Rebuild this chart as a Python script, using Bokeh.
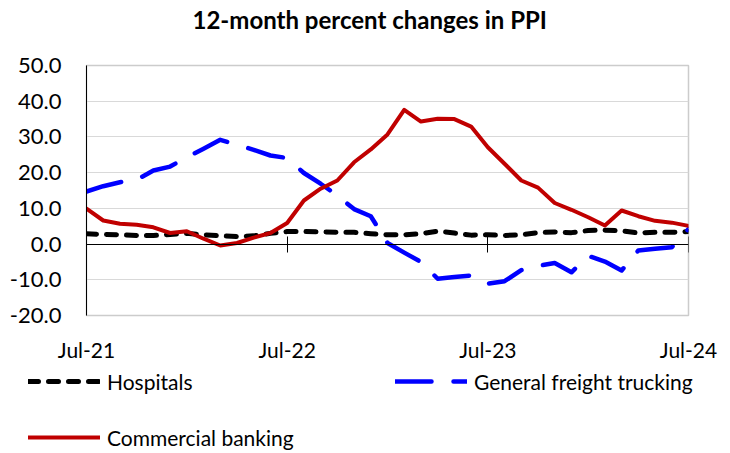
from bokeh.plotting import figure
from bokeh.layouts import column, row
from bokeh.models import (Range1d, FixedTicker, PrintfTickFormatter, LinearAxis,
                          Legend, LegendItem, Title)
from bokeh.embed import file_html
from bokeh.resources import INLINE

# ---- data -------------------------------------------------------------
month_names = ["Jan", "Feb", "Mar", "Apr", "May", "Jun",
               "Jul", "Aug", "Sep", "Oct", "Nov", "Dec"]
months = []
for k in range(37):
    m = (6 + k) % 12
    yy = 21 + (6 + k) // 12
    months.append(f"{month_names[m]}-{yy}")

hospitals = [2.9, 2.7, 2.6, 2.4, 2.4, 2.7, 3.0, 2.6, 2.3, 2.1, 2.3, 3.0,
             3.5, 3.5, 3.4, 3.3, 3.3, 2.9, 2.6, 2.6, 2.9, 3.6, 3.1, 2.5,
             2.6, 2.4, 2.6, 3.2, 3.4, 3.2, 3.8, 3.9, 3.7, 3.1, 3.3, 3.3, 3.5]

freight_trucking = [14.7, 16.2, 17.3, 18.0, 20.6, 21.7, 24.3, 26.7, 29.2, 27.8, 26.4, 24.8,
                    24.1, 19.9, 16.9, 13.6, 9.8, 7.8, 0.3, -2.4, -5.0, -9.7, -9.2, -8.8,
                    -11.1, -10.4, -7.3, -6.1, -5.3, -7.9, -3.3, -4.9, -7.4, -1.8, -1.3, -0.9, 4.2]

commercial_banking = [9.9, 6.6, 5.7, 5.4, 4.7, 3.1, 3.6, 1.5, -0.4, 0.3, 1.8, 3.1,
                      5.9, 12.2, 15.5, 17.8, 22.9, 26.5, 30.7, 37.6, 34.3, 35.1, 35.0, 32.9,
                      27.1, 22.5, 17.8, 15.8, 11.5, 9.6, 7.5, 5.2, 9.4, 7.8, 6.5, 6.0, 5.1]

series_names = ["Hospitals", "General freight trucking", "Commercial banking"]

x_idx = list(range(len(months)))
x_ticks = [0, 12, 24, 36]
y_ticks = [-20, -10, 0, 10, 20, 30, 40, 50]
title_text = "12-month percent changes in PPI"

FONT = "Lato"
STYLES = [
    dict(line_color="black", line_width=5, line_dash="10 10", line_cap="round", line_join="round"),
    dict(line_color="#0000ff", line_width=4.5, line_dash="36 22", line_cap="round", line_join="round"),
    dict(line_color="#c00000", line_width=4, line_cap="round", line_join="round"),
]

# ---- main figure ------------------------------------------------------
p = figure(width=730, height=366, output_backend="svg", toolbar_location=None,
           x_range=Range1d(0, 36), y_range=Range1d(-20, 50), title=None,
           min_border_left=86, min_border_right=42,
           min_border_top=65, min_border_bottom=51)
p.background_fill_color = "white"
p.border_fill_color = "white"
p.outline_line_color = "#cccccc"
p.outline_line_width = 1.5

p.xgrid.grid_line_color = None
p.ygrid.ticker = FixedTicker(ticks=y_ticks)
p.ygrid.grid_line_color = "#d9d9d9"
p.ygrid.grid_line_width = 1

# y axis
ya = p.yaxis[0]
ya.ticker = FixedTicker(ticks=y_ticks)
ya.formatter = PrintfTickFormatter(format="%.1f")
ya.axis_line_color = "black"
ya.axis_line_width = 1
ya.major_tick_in = 0
ya.major_tick_out = 0
ya.minor_tick_line_color = None
ya.major_label_standoff = 25
ya.major_label_text_font = FONT
ya.major_label_text_font_size = "22px"
ya.major_label_text_color = "black"

# x axis carrying the labels at the bottom
xa = p.xaxis[0]
xa.ticker = FixedTicker(ticks=x_ticks)
xa.major_label_overrides = {t: months[t] for t in x_ticks}
xa.axis_line_color = None
xa.major_tick_line_color = None
xa.major_tick_in = 0
xa.major_tick_out = 0
xa.minor_tick_line_color = None
xa.major_label_standoff = 21
xa.major_label_text_font = FONT
xa.major_label_text_font_size = "21px"
xa.major_label_text_color = "black"

# invisible spacer axis above the frame (lifts the title)
pad = LinearAxis(ticker=FixedTicker(ticks=[18]))
pad.major_label_overrides = {18: ""}
pad.axis_line_color = None
pad.major_tick_line_color = None
pad.minor_tick_line_color = None
pad.major_tick_in = 0
pad.major_tick_out = 32
pad.minor_tick_out = 0
pad.major_label_standoff = 0
pad.major_label_text_font_size = "1px"
pad.major_label_text_color = None
p.add_layout(pad, "above")

p.add_layout(Title(text=title_text, align="left", offset=106, standoff=0,
                   text_font=FONT, text_font_style="bold", text_font_size="24px",
                   text_color="black"), "above")

# zero line with crossing tick marks
za = LinearAxis(fixed_location=0, ticker=FixedTicker(ticks=x_ticks))
za.axis_line_color = "black"
za.axis_line_width = 1
za.major_tick_line_color = "black"
za.major_tick_line_width = 1
za.major_tick_in = 8
za.major_tick_out = 8
za.minor_tick_line_color = None
za.major_label_text_color = None
za.major_label_text_font_size = "1px"
za.major_label_standoff = 0
p.add_layout(za, "below")

# ---- series -----------------------------------------------------------
r_h = p.line(x_idx, hospitals, **STYLES[0])
r_f = p.line(x_idx, freight_trucking, **STYLES[1])
r_c = p.line(x_idx, commercial_banking, **STYLES[2])

# ---- legend strip -----------------------------------------------------
lf = figure(width=730, height=87, output_backend="svg", toolbar_location=None,
            x_range=Range1d(0, 1), y_range=Range1d(0, 1),
            x_axis_location=None, y_axis_location=None,
            min_border=0, min_border_left=0, min_border_right=0,
            min_border_top=0, min_border_bottom=0)
lf.outline_line_color = None
lf.grid.grid_line_color = None
lf.background_fill_color = "white"
lf.border_fill_color = "white"

legend_locs = [(28, 59), (395, 59), (28, 3)]
for name, style, loc in zip(series_names, STYLES, legend_locs):
    # key-only renderer, lying outside the strip's visible range
    rr = lf.line(x=[0, 1], y=[-5, -5], **style)
    lg = Legend(items=[LegendItem(label=name, renderers=[rr])], location=loc)
    lg.background_fill_alpha = 0
    lg.border_line_alpha = 0
    lg.padding = 0
    lg.margin = 0
    lg.spacing = 0
    lg.glyph_width = 72
    lg.glyph_height = 26
    lg.label_height = 26
    lg.label_standoff = 7
    lg.label_text_font = FONT
    lg.label_text_font_size = "21px"
    lg.label_text_color = "black"
    lf.add_layout(lg)

layout = column(p, row(lf, spacing=0), spacing=0)
open("out.html", "w").write(file_html(layout, INLINE))
